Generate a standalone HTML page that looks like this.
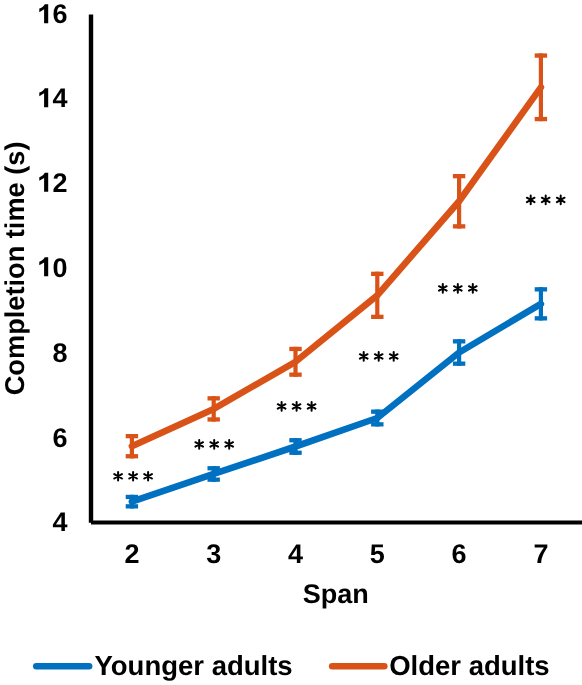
<!DOCTYPE html>
<html><head><meta charset="utf-8"><style>
html,body{margin:0;padding:0;background:#fff;-webkit-font-smoothing:antialiased;}
svg{display:block;will-change:transform;}
text{text-rendering:geometricPrecision;font-family:"Liberation Sans",sans-serif;font-weight:bold;font-size:27px;fill:#000;}
</style></head><body>
<svg width="582" height="685" viewBox="0 0 582 685">
<rect width="582" height="685" fill="#fff"/>
<g><text x="67.5" y="531.00" text-anchor="end">4</text><text x="67.5" y="446.75" text-anchor="end">6</text><text x="67.5" y="361.90" text-anchor="end">8</text><text x="67.5" y="276.50" text-anchor="end">0</text><path transform="translate(48.2,276.30)" d="M0,-19.0V0H-4.1V-13.9L-8.9,-11.0V-14.6C-6.6,-15.5 -4.5,-16.9 -3.4,-19.0Z" fill="#000"/><text x="67.5" y="192.00" text-anchor="end">2</text><path transform="translate(48.2,191.80)" d="M0,-19.0V0H-4.1V-13.9L-8.9,-11.0V-14.6C-6.6,-15.5 -4.5,-16.9 -3.4,-19.0Z" fill="#000"/><text x="67.5" y="107.40" text-anchor="end">4</text><path transform="translate(48.2,107.20)" d="M0,-19.0V0H-4.1V-13.9L-8.9,-11.0V-14.6C-6.6,-15.5 -4.5,-16.9 -3.4,-19.0Z" fill="#000"/><text x="67.5" y="23.35" text-anchor="end">6</text><path transform="translate(48.2,23.15)" d="M0,-19.0V0H-4.1V-13.9L-8.9,-11.0V-14.6C-6.6,-15.5 -4.5,-16.9 -3.4,-19.0Z" fill="#000"/></g>
<g><text x="131.90" y="563.4" text-anchor="middle">2</text><text x="213.70" y="563.4" text-anchor="middle">3</text><text x="295.50" y="563.4" text-anchor="middle">4</text><text x="377.30" y="563.4" text-anchor="middle">5</text><text x="459.10" y="563.4" text-anchor="middle">6</text><text x="540.90" y="563.4" text-anchor="middle">7</text></g>
<text x="335.8" y="602.8" text-anchor="middle">Span</text>
<text transform="translate(24,268.4) rotate(-90)" text-anchor="middle" style="font-size:27.2px">Completion time (s)</text>
<path d="M91,14.4V522.7" stroke="#000" stroke-width="4.4" fill="none"/>
<path d="M91,522.5H582" stroke="#000" stroke-width="4" fill="none"/>
<g><rect x="129.80" y="494.80" width="4.2" height="13.70" fill="#0070C0"/><rect x="125.70" y="494.80" width="12.4" height="4.3" fill="#0070C0"/><rect x="125.70" y="504.20" width="12.4" height="4.3" fill="#0070C0"/><rect x="211.60" y="466.10" width="4.2" height="15.70" fill="#0070C0"/><rect x="207.50" y="466.10" width="12.4" height="4.3" fill="#0070C0"/><rect x="207.50" y="477.50" width="12.4" height="4.3" fill="#0070C0"/><rect x="293.40" y="438.10" width="4.2" height="16.80" fill="#0070C0"/><rect x="289.30" y="438.10" width="12.4" height="4.3" fill="#0070C0"/><rect x="289.30" y="450.60" width="12.4" height="4.3" fill="#0070C0"/><rect x="375.20" y="409.50" width="4.2" height="17.00" fill="#0070C0"/><rect x="371.10" y="409.50" width="12.4" height="4.3" fill="#0070C0"/><rect x="371.10" y="422.20" width="12.4" height="4.3" fill="#0070C0"/><rect x="457.00" y="339.20" width="4.2" height="26.60" fill="#0070C0"/><rect x="452.90" y="339.20" width="12.4" height="4.3" fill="#0070C0"/><rect x="452.90" y="361.50" width="12.4" height="4.3" fill="#0070C0"/><rect x="538.80" y="287.20" width="4.2" height="33.30" fill="#0070C0"/><rect x="534.70" y="287.20" width="12.4" height="4.3" fill="#0070C0"/><rect x="534.70" y="316.20" width="12.4" height="4.3" fill="#0070C0"/></g>
<g><rect x="129.80" y="434.00" width="4.2" height="24.40" fill="#D95319"/><rect x="125.70" y="434.00" width="12.4" height="4.3" fill="#D95319"/><rect x="125.70" y="454.10" width="12.4" height="4.3" fill="#D95319"/><rect x="211.60" y="396.20" width="4.2" height="25.40" fill="#D95319"/><rect x="207.50" y="396.20" width="12.4" height="4.3" fill="#D95319"/><rect x="207.50" y="417.30" width="12.4" height="4.3" fill="#D95319"/><rect x="293.40" y="346.80" width="4.2" height="30.00" fill="#D95319"/><rect x="289.30" y="346.80" width="12.4" height="4.3" fill="#D95319"/><rect x="289.30" y="372.50" width="12.4" height="4.3" fill="#D95319"/><rect x="375.20" y="271.70" width="4.2" height="47.30" fill="#D95319"/><rect x="371.10" y="271.70" width="12.4" height="4.3" fill="#D95319"/><rect x="371.10" y="314.70" width="12.4" height="4.3" fill="#D95319"/><rect x="457.00" y="174.00" width="4.2" height="54.50" fill="#D95319"/><rect x="452.90" y="174.00" width="12.4" height="4.3" fill="#D95319"/><rect x="452.90" y="224.20" width="12.4" height="4.3" fill="#D95319"/><rect x="538.80" y="53.40" width="4.2" height="67.80" fill="#D95319"/><rect x="534.70" y="53.40" width="12.4" height="4.3" fill="#D95319"/><rect x="534.70" y="116.90" width="12.4" height="4.3" fill="#D95319"/></g>
<path d="M131.90,501.65 L213.70,473.95 L295.50,446.50 L377.30,418.00 L459.10,352.50 L540.90,303.85" stroke="#0070C0" stroke-width="6.6" fill="none" stroke-linecap="round" stroke-linejoin="round"/>
<path d="M131.90,446.20 L213.70,408.90 L295.50,361.80 L377.30,295.35 L459.10,201.25 L540.90,87.30" stroke="#D95319" stroke-width="6.6" fill="none" stroke-linecap="round" stroke-linejoin="round"/>
<path d="M118.10,480.60L118.10,472.00M114.29,478.50L121.91,474.10M114.29,474.10L121.91,478.50M133.10,480.60L133.10,472.00M129.29,478.50L136.91,474.10M129.29,474.10L136.91,478.50M148.10,480.60L148.10,472.00M144.29,478.50L151.91,474.10M144.29,474.10L151.91,478.50M199.20,448.70L199.20,440.10M195.39,446.60L203.01,442.20M195.39,442.20L203.01,446.60M214.20,448.70L214.20,440.10M210.39,446.60L218.01,442.20M210.39,442.20L218.01,446.60M229.20,448.70L229.20,440.10M225.39,446.60L233.01,442.20M225.39,442.20L233.01,446.60M281.60,410.70L281.60,402.10M277.79,408.60L285.41,404.20M277.79,404.20L285.41,408.60M296.60,410.70L296.60,402.10M292.79,408.60L300.41,404.20M292.79,404.20L300.41,408.60M311.60,410.70L311.60,402.10M307.79,408.60L315.41,404.20M307.79,404.20L315.41,408.60M363.70,360.70L363.70,352.10M359.89,358.60L367.51,354.20M359.89,354.20L367.51,358.60M378.70,360.70L378.70,352.10M374.89,358.60L382.51,354.20M374.89,354.20L382.51,358.60M393.70,360.70L393.70,352.10M389.89,358.60L397.51,354.20M389.89,354.20L397.51,358.60M442.80,292.70L442.80,284.10M438.99,290.60L446.61,286.20M438.99,286.20L446.61,290.60M457.80,292.70L457.80,284.10M453.99,290.60L461.61,286.20M453.99,286.20L461.61,290.60M472.80,292.70L472.80,284.10M468.99,290.60L476.61,286.20M468.99,286.20L476.61,290.60M530.70,204.20L530.70,195.60M526.89,202.10L534.51,197.70M526.89,197.70L534.51,202.10M545.70,204.20L545.70,195.60M541.89,202.10L549.51,197.70M541.89,197.70L549.51,202.10M560.70,204.20L560.70,195.60M556.89,202.10L564.51,197.70M556.89,197.70L564.51,202.10" stroke="#000" stroke-width="2" stroke-linecap="round" fill="none"/>
<path d="M36.3,666.2H89.1" stroke="#0070C0" stroke-width="6.6" stroke-linecap="round"/>
<text x="95" y="675" style="font-size:27.5px" dx="-0.5">Younger adults</text>
<path d="M332.2,666.2H384.3" stroke="#D95319" stroke-width="6.6" stroke-linecap="round"/>
<text x="390.4" y="675" style="font-size:27.5px" dx="-1.2">Older adults</text>
</svg>
</body></html>
